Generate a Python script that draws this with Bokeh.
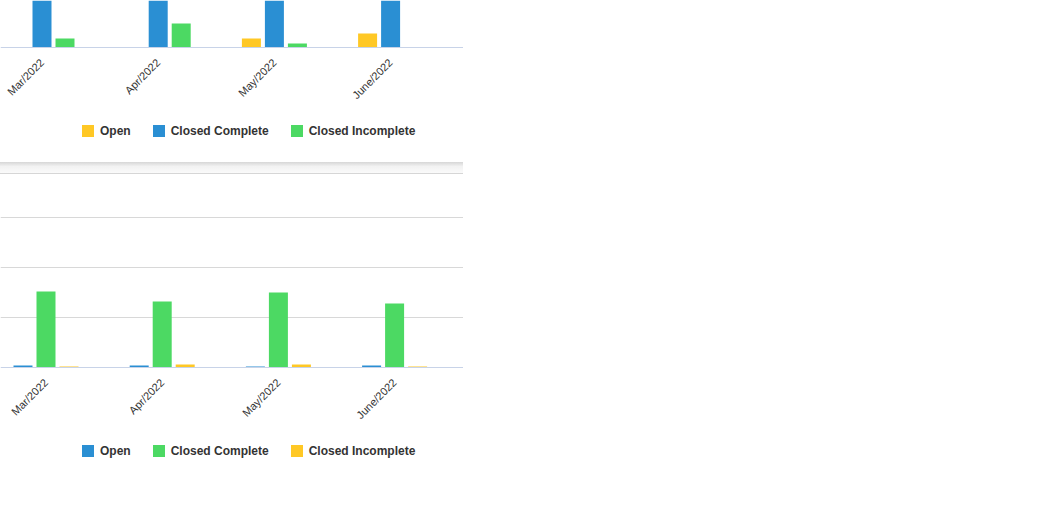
import numpy as np
from bokeh.plotting import figure
from bokeh.models import ColumnDataSource, Range1d, Legend, LegendItem, FixedTicker, Div
from bokeh.layouts import column
from bokeh.transform import dodge
from bokeh.embed import file_html
from bokeh.resources import INLINE

months = ["Mar/2022", "Apr/2022", "May/2022", "June/2022"]
series_names = ["Open", "Closed Complete", "Closed Incomplete"]

# upper chart (Closed Complete bars run past the visible top)
top_open = [0, 0, 9, 14]
top_closed_complete = [95, 110, 90, 100]
top_closed_incomplete = [9, 24, 4, 0]

# lower chart
bot_open = [4, 4, 2, 4]
bot_closed_complete = [152, 132, 150, 128]
bot_closed_incomplete = [2, 6, 6, 2]

YELLOW = "#FFC825"
BLUE = "#2A8FD3"
GREEN = "#4CD963"
FONT = "Liberation Sans"
W = 463


def make_chart(values, colors, x_start, y_start, y_end, height, grid_ticks, legend_y):
    src = ColumnDataSource(dict(idx=list(range(len(months))),
                                s0=values[0], s1=values[1], s2=values[2]))
    p = figure(width=W, height=height, output_backend="svg", toolbar_location=None,
               tools="", x_range=Range1d(x_start, x_start + W / 116.2),
               y_range=Range1d(y_start, y_end),
               min_border_left=0, min_border_right=0,
               min_border_top=0, min_border_bottom=0)
    p.outline_line_color = None
    p.background_fill_color = "white"
    p.border_fill_color = "white"
    p.yaxis.visible = False
    offs = [-0.198, 0.0, 0.198]
    rends = []
    for i, col in enumerate(["s0", "s1", "s2"]):
        r = p.vbar(x=dodge("idx", offs[i]), top=col, bottom=0, width=0.1635,
                   source=src, fill_color=colors[i], line_color=None)
        rends.append(r)
    p.xgrid.grid_line_color = None
    if grid_ticks:
        p.ygrid.ticker = FixedTicker(ticks=grid_ticks)
        p.ygrid.grid_line_color = "#d8d8d8"
    else:
        p.ygrid.grid_line_color = None
    ax = p.xaxis[0]
    ax.fixed_location = 0
    ax.ticker = FixedTicker(ticks=list(range(len(months))))
    ax.major_label_overrides = {i: m for i, m in enumerate(months)}
    ax.major_label_orientation = np.pi / 4
    ax.axis_line_color = "#c8d3e8"
    ax.major_tick_line_color = None
    ax.minor_tick_line_color = None
    ax.major_label_text_font = FONT
    ax.major_label_text_font_size = "11px"
    ax.major_label_text_color = "#333333"
    ax.major_label_standoff = 7
    legend = Legend(items=[LegendItem(label=n, renderers=[r]) for n, r in zip(series_names, rends)],
                    orientation="horizontal", location=(80, legend_y), padding=0, margin=0,
                    spacing=20, glyph_width=15, glyph_height=15, label_standoff=5,
                    label_height=15, border_line_color=None, background_fill_alpha=0,
                    label_text_font=FONT, label_text_font_style="bold",
                    label_text_font_size="12px", label_text_color="#333333",
                    label_text_baseline="middle")
    p.add_layout(legend)
    return p


p1 = make_chart([top_open, top_closed_complete, top_closed_incomplete],
                [YELLOW, BLUE, GREEN], -41.5 / 116.2, -115, 47, 162, None, 24)
shadow = Div(text="", width=W, height=12, margin=0,
             styles={"background": "linear-gradient(#d6d6d6, #f2f2f2 40%, #fafafa)",
                     "border-bottom": "1px solid #d6d6d6"})
p2 = make_chart([bot_open, bot_closed_complete, bot_closed_incomplete],
                [BLUE, GREEN, YELLOW], -45.5 / 116.2, -226, 386, 306, [100, 200, 300], 22)

layout = column(p1, shadow, p2, spacing=0)
open("out.html", "w").write(file_html(layout, INLINE))
